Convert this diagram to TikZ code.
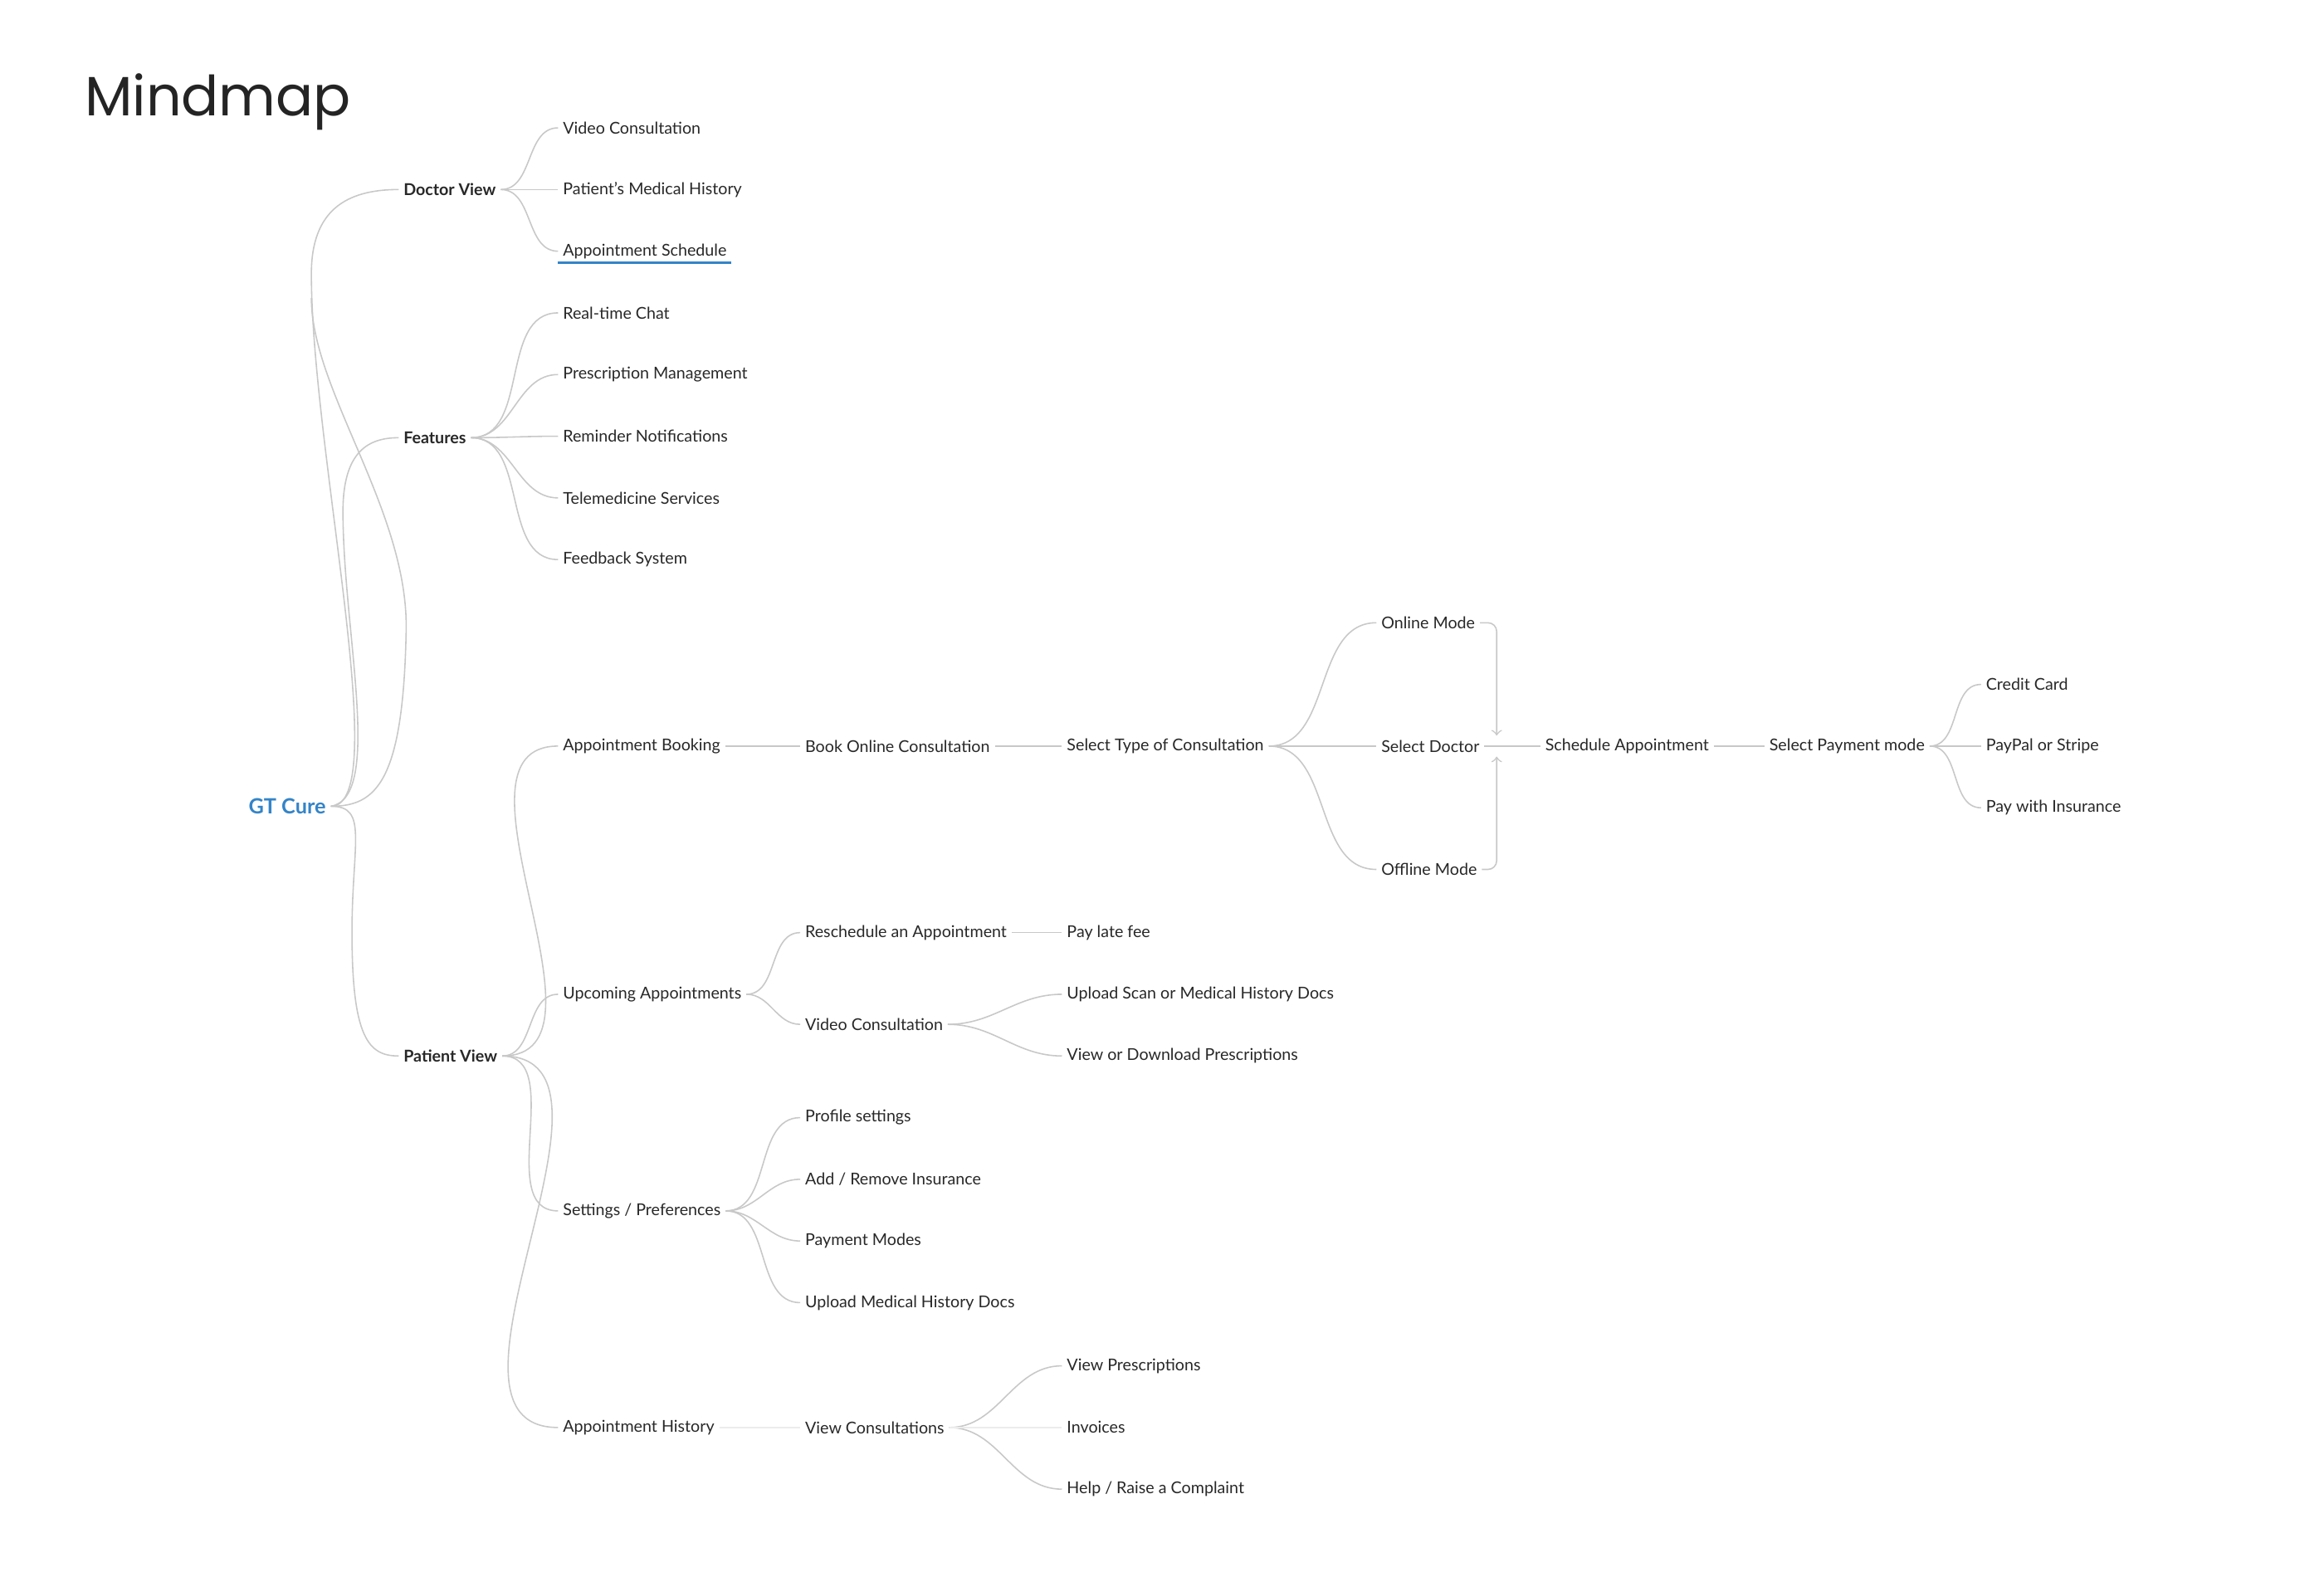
\documentclass[tikz,border=0pt]{standalone}
\usepackage{fontspec}
\setmainfont{Lato}
\newfontfamily\titlefont{Poppins}
\usepackage{xcolor}
\usetikzlibrary{positioning,arrows}
\definecolor{linkgray}{RGB}{200,200,200}
\definecolor{cureblue}{RGB}{52,132,200}
\definecolor{ink}{RGB}{40,40,40}
\tikzset{
  topic/.style={anchor=west, inner sep=0pt, outer xsep=0.6mm, font=\fontsize{5.6}{6}\selectfont, text=ink},
  branch/.style={topic, font=\fontsize{5.6}{6}\selectfont\bfseries},
  link/.style={draw=linkgray, line width=0.45pt},
  faint/.style={draw=linkgray!35, line width=0.45pt}
}
\begin{document}
\begin{tikzpicture}[x=0.01812cm, y=-0.01812cm]
\useasboundingbox (0,0) rectangle (1545,1048);
% Title and root
\node[anchor=west, inner sep=0pt, font=\fontsize{19}{22}\selectfont\titlefont, text=ink!90!black] (title) at (56,68) {Mindmap};
\node[anchor=west, inner sep=0pt, outer xsep=0.6mm, font=\fontsize{7.2}{8}\selectfont\bfseries, text=cureblue] (cure) at (162,536) {GT Cure};

% First level
\node[branch] (doctor) at (265,126) {Doctor View};
\node[branch] (features) at (265,291) {Features};
\node[branch] (patient) at (265,702) {Patient View};

% Doctor view
\node[topic] (dvideo) at (371,85) {Video Consultation};
\node[topic] (dhist) at (371,126) {Patient's Medical History};
\node[topic] (dsched) at (371,167) {Appointment Schedule};
\draw[cureblue, line width=1pt] ([yshift=-1.2pt]dsched.south west) -- ([yshift=-1.2pt]dsched.south east);

% Features
\node[topic] (chat) at (371,208) {Real-time Chat};
\node[topic] (presc) at (371,249) {Prescription Management};
\node[topic] (remind) at (371,290) {Reminder Notifications};
\node[topic] (tele) at (371,331) {Telemedicine Services};
\node[topic] (feedback) at (371,372) {Feedback System};

% Patient view
\node[topic] (booking) at (371,496) {Appointment Booking};
\node[topic] (upcoming) at (371,661) {Upcoming Appointments};
\node[topic] (settings) at (371,805) {Settings / Preferences};
\node[topic] (history) at (371,949) {Appointment History};

% Booking chain
\node[topic] (bookonline) at (532,496) {Book Online Consultation};
\node[topic] (seltype) at (706,496) {Select Type of Consultation};
\node[topic] (online) at (915,414) {Online Mode};
\node[topic] (seldoc) at (915,496) {Select Doctor};
\node[topic] (offline) at (915,578) {Offline Mode};
\node[topic] (schedule) at (1024,496) {Schedule Appointment};
\node[topic] (payment) at (1173,496) {Select Payment mode};
\node[topic] (card) at (1317,455) {Credit Card};
\node[topic] (paypal) at (1317,496) {PayPal or Stripe};
\node[topic] (insur) at (1317,537) {Pay with Insurance};
\coordinate (jtop) at (995,489);
\coordinate (jbot) at (995,503);

% Upcoming
\node[topic] (resched) at (532,620) {Reschedule an Appointment};
\node[topic] (latefee) at (706,620) {Pay late fee};
\node[topic] (uvideo) at (532,681) {Video Consultation};
\node[topic] (upload) at (706,661) {Upload Scan or Medical History Docs};
\node[topic] (download) at (706,702) {View or Download Prescriptions};

% Settings
\node[topic] (profile) at (532,743) {Profile settings};
\node[topic] (addins) at (532,784) {Add / Remove Insurance};
\node[topic] (paymodes) at (532,825) {Payment Modes};
\node[topic] (uploadhist) at (532,866) {Upload Medical History Docs};

% History
\node[topic] (viewcons) at (532,949) {View Consultations};
\node[topic] (viewpresc) at (706,908) {View Prescriptions};
\node[topic] (invoices) at (706,949) {Invoices};
\node[topic] (complaint) at (706,990) {Help / Raise a Complaint};

% Root links
\draw[link] (cure.east) .. controls (262,536) and (207,300) .. (207,182);
\draw[link] (207,198) .. controls (207,260) and (272,340) .. (270,420) .. controls (268,520) and (250,536) .. (cure.east);
\draw[link] (207,182) .. controls (207,140) and (230,126) .. (doctor.west);
\draw[link] (cure.east) .. controls (255,530) and (228,420) .. (228,340) .. controls (228,300) and (245,291) .. (features.west);
\draw[link] (cure.east) .. controls (245,536) and (234,560) .. (234,620) .. controls (234,690) and (245,702) .. (patient.west);

% Tree links
\foreach \a/\b in {doctor/dvideo, doctor/dhist, doctor/dsched,
  features/chat, features/presc, features/remind, features/tele, features/feedback,
  patient/booking, patient/upcoming, patient/settings, patient/history,
  booking/bookonline, bookonline/seltype, seltype/online, seltype/seldoc, seltype/offline,
  schedule/payment, payment/card, payment/paypal, payment/insur,
  upcoming/resched, upcoming/uvideo, resched/latefee, uvideo/upload, uvideo/download,
  settings/profile, settings/addins, settings/paymodes, settings/uploadhist,
  viewcons/viewpresc, viewcons/complaint}
  \draw[link] (\a.east) to[out=0, in=180] (\b.west);
\draw[faint] (history.east) -- (viewcons.west);
\draw[faint] (viewcons.east) -- (invoices.west);
\draw[link] (seldoc.east) -- (schedule.west);

% Merge arrows
\draw[link, ->, rounded corners=3pt] (online.east) -| (jtop);
\draw[link, ->, rounded corners=3pt] (offline.east) -| (jbot);
\end{tikzpicture}
\end{document}
